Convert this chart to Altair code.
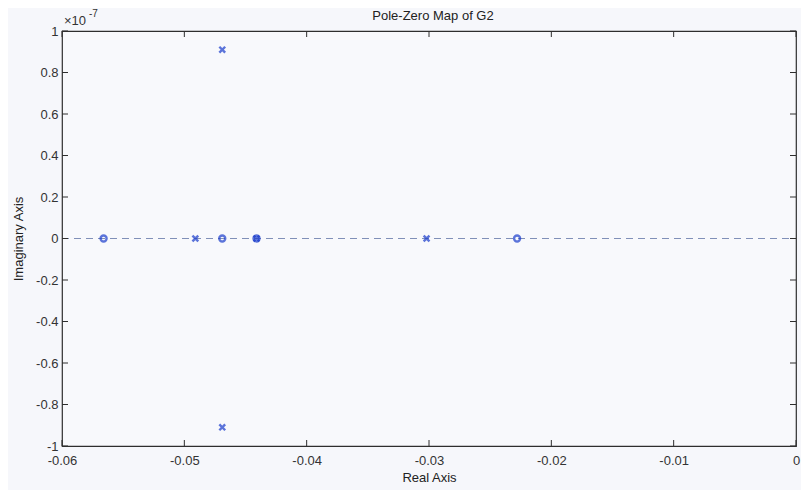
import altair as alt
import pandas as pd

# Pole / zero locations (imaginary part in units of 1e-7)
pole_re = [-0.0491, -0.0469, -0.0469, -0.0441, -0.0302]
pole_im = [0.0, 0.91, -0.91, 0.0, 0.0]
zero_re = [-0.0566, -0.0469, -0.0441, -0.0228]
zero_im = [0.0, 0.0, 0.0, 0.0]

x_ticks = [-0.06, -0.05, -0.04, -0.03, -0.02, -0.01, 0.0]
y_ticks = [-1, -0.8, -0.6, -0.4, -0.2, 0, 0.2, 0.4, 0.6, 0.8, 1]

W, H = 734, 415
XMIN, XMAX, YMIN, YMAX = -0.06, 0.0, -1.0, 1.0
blue = "#1a3ccc"
axis_col = "#2e2e2e"
font = "Liberation Sans"

poles = pd.DataFrame({"re": pole_re, "im": pole_im})
zeros = pd.DataFrame({"re": zero_re, "im": zero_im})

xs = alt.Scale(domain=[XMIN, XMAX], nice=False, zero=False)
ys = alt.Scale(domain=[YMIN, YMAX], nice=False, zero=False)

x_enc = alt.X("re:Q", scale=xs, title="Real Axis",
              axis=alt.Axis(values=x_ticks, ticks=False, grid=False, domain=False,
                            labelPadding=8, titlePadding=4,
                            labelExpr="datum.value + ''",
                            labelFontSize=13, titleFontSize=13, labelColor="#333",
                            titleColor="#222", labelFont=font, titleFont=font,
                            titleFontWeight="normal", labelFlush=False))
y_enc = alt.Y("im:Q", scale=ys, title="Imaginary Axis",
              axis=alt.Axis(values=y_ticks, ticks=False, grid=False, domain=False,
                            labelPadding=4, titlePadding=10,
                            labelExpr="datum.value + ''",
                            labelFontSize=13, titleFontSize=13, labelColor="#333",
                            titleColor="#222", labelFont=font, titleFont=font,
                            titleFontWeight="normal"))

# zero-line (dashed)
zline = alt.Chart(pd.DataFrame({"re": [XMIN], "re2": [XMAX], "im": [0.0]})).mark_rule(
    color="#8090b8", strokeDash=[7, 5], strokeWidth=1.2
).encode(x=x_enc, x2="re2:Q", y=y_enc)

# inward tick marks
xt = pd.DataFrame({"re": x_ticks})
bt = alt.Chart(xt).mark_rule(color=axis_col).encode(
    x=alt.X("re:Q", scale=xs), y=alt.value(H), y2=alt.value(H - 6))
tt = alt.Chart(xt).mark_rule(color=axis_col).encode(
    x=alt.X("re:Q", scale=xs), y=alt.value(0), y2=alt.value(6))
yt = pd.DataFrame({"im": y_ticks})
lt = alt.Chart(yt).mark_rule(color=axis_col).encode(
    y=alt.Y("im:Q", scale=ys), x=alt.value(0), x2=alt.value(6))
rt = alt.Chart(yt).mark_rule(color=axis_col).encode(
    y=alt.Y("im:Q", scale=ys), x=alt.value(W), x2=alt.value(W - 6))

pole_pts = alt.Chart(poles).mark_point(
    shape="M-1,-1L1,1M1,-1L-1,1", size=34, strokeWidth=2.4, color=blue, filled=False
).encode(x=alt.X("re:Q", scale=xs), y=alt.Y("im:Q", scale=ys))

zero_pts = alt.Chart(zeros).mark_point(
    shape="circle", size=36, strokeWidth=2.4, color=blue, filled=False
).encode(x=alt.X("re:Q", scale=xs), y=alt.Y("im:Q", scale=ys))

one = pd.DataFrame({"a": [0]})
title = alt.Chart(one).mark_text(text="Pole-Zero Map of G2", align="center",
                                 baseline="alphabetic", fontSize=13, font=font,
                                 color="#222").encode(
    x=alt.value(W / 2 + 4), y=alt.value(-11))
x10 = alt.Chart(one).mark_text(text="×10", align="left", baseline="alphabetic",
                               fontSize=13, font=font, color="#333").encode(
    x=alt.value(2), y=alt.value(-6))
exp = alt.Chart(one).mark_text(text="-7", align="left", baseline="alphabetic",
                               fontSize=10, font=font, color="#333").encode(
    x=alt.value(27), y=alt.value(-14))

chart = alt.layer(zline, bt, tt, lt, rt, zero_pts, pole_pts, title, x10, exp).properties(
    width=W, height=H,
    autosize=alt.AutoSizeParams(type="none"),
    padding={"left": 54, "top": 23, "right": 5, "bottom": 44},
    background="#f6f7fb",
).configure_view(stroke=axis_col, strokeWidth=1.2, fill="#f8f9fc")

chart.save("out.html", embed_options={"renderer": "svg", "actions": False})
